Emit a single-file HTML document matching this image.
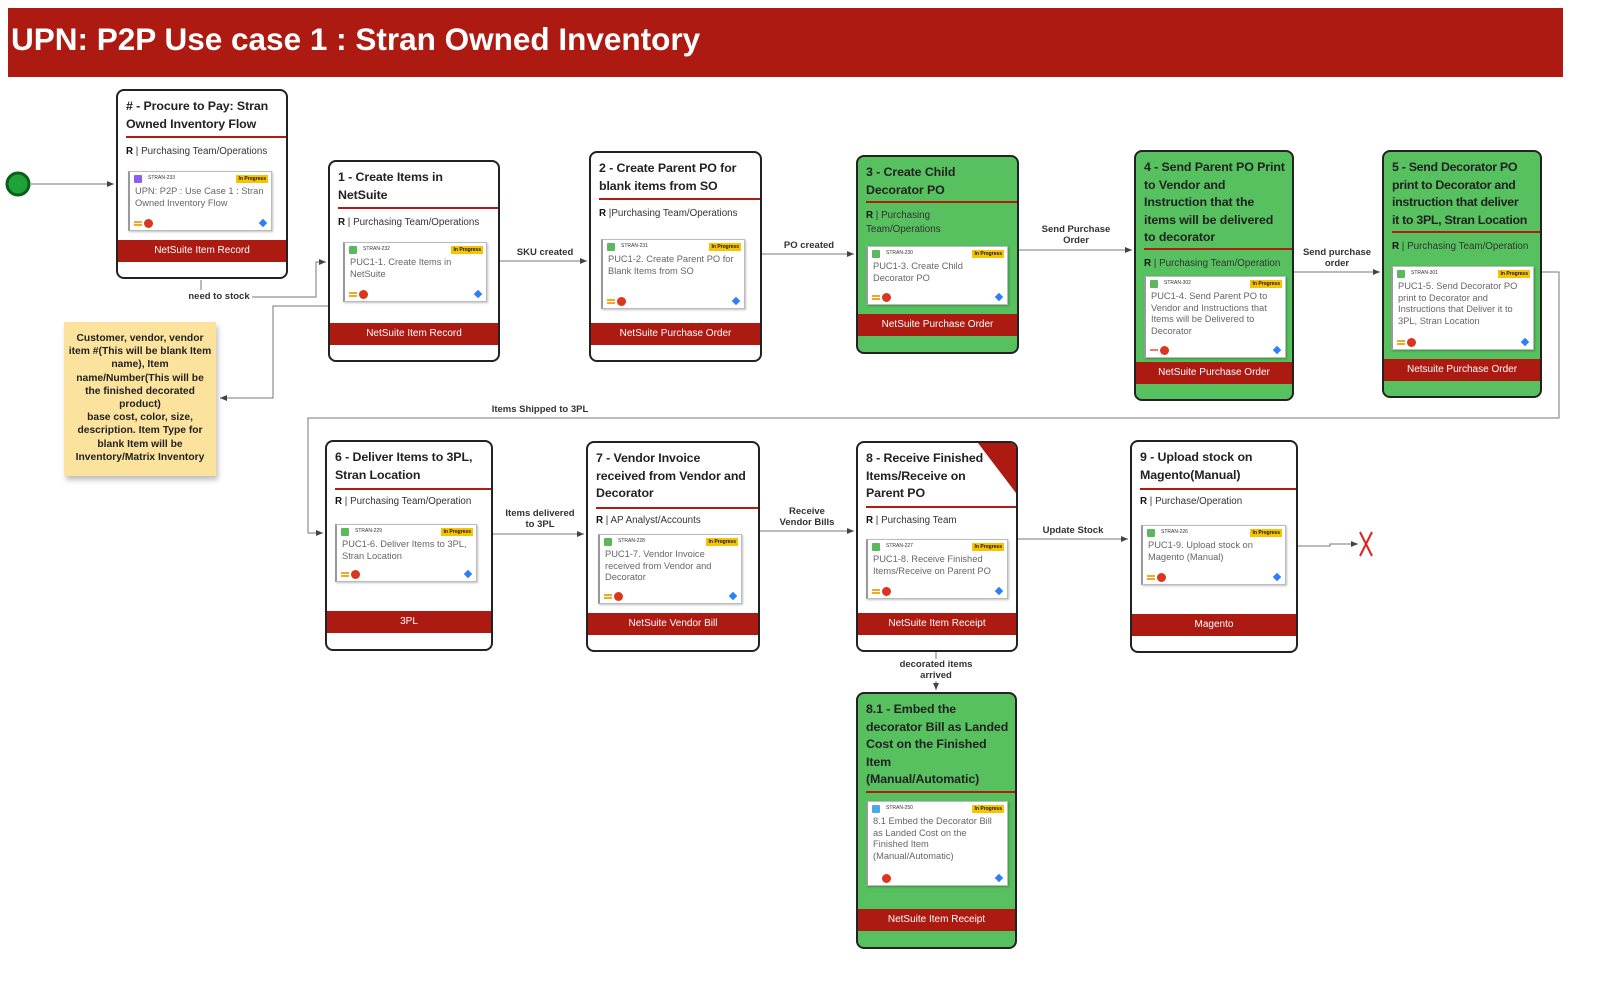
<!DOCTYPE html>
<html><head><meta charset="utf-8"><style>
*{box-sizing:border-box;margin:0;padding:0}
body{width:1605px;height:984px;background:#fff;position:relative;overflow:hidden;font-family:"Liberation Sans","DejaVu Sans",sans-serif}
.hdr{position:absolute;left:8px;top:8px;width:1555px;height:69px;background:#ad1a12;color:#fff;font-weight:bold;font-size:31.5px;padding:13px 0 0 3px}
.card{position:absolute;background:#fff;border:2px solid #222;border-radius:8px;overflow:hidden}
.card.g{background:#56c15e}
.t{position:absolute;left:8px;top:7px;font-weight:bold;font-size:12.4px;line-height:17.6px;color:#222;white-space:nowrap;letter-spacing:-0.1px}
.hl{position:absolute;left:8px;right:0;height:2px;background:#b01c14}
.r{position:absolute;left:8px;right:2px;font-size:9.8px;color:#333;line-height:14px;white-space:nowrap}
.r b{color:#111}
.ib{position:absolute;background:#fff;border:1px solid #bbb;box-shadow:1px 1px 2px rgba(0,0,0,.25);border-left:2px solid #999}
.ib .id{position:absolute;left:18px;top:3px;font-size:5px;color:#333}
.ib .ic{position:absolute;left:4px;top:3px;width:8px;height:8px;background:#5cb85c;border-radius:1px}
.ib .bd{position:absolute;right:3px;top:3px;background:#f8c400;font-size:5px;font-weight:bold;padding:1px 2px;color:#111}
.ib .tx{position:absolute;left:5px;top:14px;right:3px;font-size:9.3px;line-height:11.6px;color:#666}
.ib .e1{position:absolute;left:4px;bottom:4px;width:8px;height:5px;border-top:2px solid #f5a623;border-bottom:2px solid #f5a623}
.ib .e2{position:absolute;left:14px;bottom:2px;width:9px;height:9px;border-radius:50%;background:#d9361d}
.ib .e3{position:absolute;right:5px;bottom:4px;width:6px;height:6px;background:#2d7ff9;transform:rotate(45deg)}
.ft{position:absolute;left:0;right:0;height:22px;background:#ad1a12;color:#fff;font-size:10px;text-align:center;line-height:22px}
.lbl{position:absolute;font-size:9.5px;font-weight:bold;color:#333;text-align:center;line-height:11px;background:#fff}
.note{position:absolute;left:64px;top:322px;width:152px;height:154px;background:#fbe39d;box-shadow:2px 4px 5px rgba(0,0,0,.25);font-weight:bold;font-size:10.3px;line-height:13.2px;color:#222;text-align:center;padding:10px 4px}
</style></head><body>
<div class="hdr">UPN: P2P Use case 1 : Stran Owned Inventory</div>

<svg style="position:absolute;left:0;top:0" width="1605" height="984">
<defs><marker id="a" markerWidth="8" markerHeight="8" refX="7" refY="4" orient="auto" markerUnits="userSpaceOnUse"><path d="M0,1 L7,4 L0,7z" fill="#444"/></marker></defs>
<g fill="none" stroke="#777" stroke-width="1">
<path d="M31,184 H114" marker-end="url(#a)"/>
<path d="M201,280 V290"/>
<path d="M252,297 H316 V262 H326" marker-end="url(#a)"/>
<path d="M328,306 H273 V398 H220" marker-end="url(#a)"/>
<path d="M499,261 H587" marker-end="url(#a)"/>
<path d="M761,254 H854" marker-end="url(#a)"/>
<path d="M1018,250 H1132" marker-end="url(#a)"/>
<path d="M1293,272 H1380" marker-end="url(#a)"/>
<path d="M1541,272 H1559 V418 H308 V533 H323" marker-end="url(#a)"/>
<path d="M492,534 H584" marker-end="url(#a)"/>
<path d="M759,531 H854" marker-end="url(#a)"/>
<path d="M1017,539 H1128" marker-end="url(#a)"/>
<path d="M1297,546 H1330 V544 H1358" marker-end="url(#a)"/>
<path d="M936,651 V690" marker-end="url(#a)"/>
</g>
<circle cx="18" cy="184" r="11" fill="#1fa339" stroke="#0b5e1c" stroke-width="3"/>
<path d="M1360,532 L1372,556 M1372,532 L1360,556" stroke="#e0201c" stroke-width="2"/>
</svg>

<div class="lbl" style="left:186px;top:291px;width:66px">need to stock</div>
<div class="lbl" style="left:512px;top:247px;width:66px">SKU created</div>
<div class="lbl" style="left:778px;top:240px;width:62px">PO created</div>
<div class="lbl" style="left:1036px;top:224px;width:80px">Send Purchase<br>Order</div>
<div class="lbl" style="left:1298px;top:247px;width:78px">Send purchase<br>order</div>
<div class="lbl" style="left:488px;top:404px;width:104px">Items Shipped to 3PL</div>
<div class="lbl" style="left:500px;top:508px;width:80px">Items delivered<br>to 3PL</div>
<div class="lbl" style="left:772px;top:506px;width:70px">Receive<br>Vendor Bills</div>
<div class="lbl" style="left:1038px;top:525px;width:70px">Update Stock</div>
<div class="lbl" style="left:890px;top:659px;width:92px">decorated items<br>arrived</div>

<div class="note">Customer, vendor, vendor item #(This will be blank Item name), Item name/Number(This will be the finished decorated product)<br>base cost, color, size, description. Item Type for blank Item will be Inventory/Matrix Inventory</div>

<div class="card" style="left:116px;top:89px;width:172px;height:190px">
<div class="t"># - Procure to Pay: Stran<br>Owned Inventory Flow</div>
<div class="hl" style="top:45px"></div>
<div class="r" style="top:54px"><b>R</b> | Purchasing Team/Operations</div>
<div class="ib" style="left:10px;top:80px;width:144px;height:60px"><div class="ic" style="background:#8b5cf6"></div><div class="id">STRAN-233</div><div class="bd">In Progress</div><div class="tx">UPN: P2P : Use Case 1 : Stran Owned Inventory Flow</div><div class="e1"></div><div class="e2"></div><div class="e3"></div></div>
<div class="ft" style="top:149px">NetSuite Item Record</div>
</div>
<div class="card" style="left:328px;top:160px;width:172px;height:202px">
<div class="t">1 - Create Items in<br>NetSuite</div>
<div class="hl" style="top:45px"></div>
<div class="r" style="top:54px"><b>R</b> | Purchasing Team/Operations</div>
<div class="ib" style="left:13px;top:80px;width:144px;height:60px"><div class="ic"></div><div class="id">STRAN-232</div><div class="bd">In Progress</div><div class="tx">PUC1-1. Create Items in NetSuite</div><div class="e1"></div><div class="e2"></div><div class="e3"></div></div>
<div class="ft" style="top:161px">NetSuite Item Record</div>
</div>
<div class="card" style="left:589px;top:151px;width:173px;height:211px">
<div class="t">2 - Create Parent PO for<br>blank items from SO</div>
<div class="hl" style="top:45px"></div>
<div class="r" style="top:54px"><b>R</b> |Purchasing Team/Operations</div>
<div class="ib" style="left:10px;top:86px;width:144px;height:70px"><div class="ic"></div><div class="id">STRAN-231</div><div class="bd">In Progress</div><div class="tx">PUC1-2. Create Parent PO for Blank Items from SO</div><div class="e1"></div><div class="e2"></div><div class="e3"></div></div>
<div class="ft" style="top:170px">NetSuite Purchase Order</div>
</div>
<div class="card g" style="left:856px;top:155px;width:163px;height:199px">
<div class="t">3 - Create  Child<br>Decorator PO</div>
<div class="hl" style="top:44px"></div>
<div class="r" style="top:52px;white-space:normal;width:90px"><b>R</b> | Purchasing Team/Operations</div>
<div class="ib" style="left:8px;top:89px;width:142px;height:59px"><div class="ic"></div><div class="id">STRAN-230</div><div class="bd">In Progress</div><div class="tx">PUC1-3. Create Child Decorator PO</div><div class="e1"></div><div class="e2"></div><div class="e3"></div></div>
<div class="ft" style="top:157px">NetSuite Purchase Order</div>
</div>
<div class="card g" style="left:1134px;top:150px;width:160px;height:251px">
<div class="t">4 - Send Parent PO Print<br>to Vendor and<br>Instruction that the<br>items will be delivered<br>to decorator</div>
<div class="hl" style="top:96px"></div>
<div class="r" style="top:105px"><b>R</b> | Purchasing Team/Operation</div>
<div class="ib" style="left:8px;top:124px;width:142px;height:82px"><div class="ic"></div><div class="id">STRAN-302</div><div class="bd">In Progress</div><div class="tx">PUC1-4. Send Parent PO to Vendor and Instructions that Items will be Delivered to Decorator</div><div class="e1" style="border:none;border-top:2px solid #f07b6b;width:8px;height:4px"></div><div class="e2"></div><div class="e3"></div></div>
<div class="ft" style="top:210px">NetSuite Purchase Order</div>
</div>
<div class="card g" style="left:1382px;top:150px;width:160px;height:248px">
<div class="t" style="letter-spacing:-0.3px">5 - Send Decorator PO<br>print to Decorator and<br>instruction that deliver<br>it to 3PL, Stran Location</div>
<div class="hl" style="top:79px"></div>
<div class="r" style="top:88px"><b>R</b> | Purchasing Team/Operation</div>
<div class="ib" style="left:7px;top:114px;width:143px;height:84px"><div class="ic"></div><div class="id">STRAN-301</div><div class="bd">In Progress</div><div class="tx">PUC1-5. Send Decorator PO print to Decorator and Instructions that Deliver it to 3PL, Stran Location</div><div class="e1"></div><div class="e2"></div><div class="e3"></div></div>
<div class="ft" style="top:207px">Netsuite Purchase Order</div>
</div>
<div class="card" style="left:325px;top:440px;width:168px;height:211px">
<div class="t">6 - Deliver Items to 3PL,<br>Stran Location</div>
<div class="hl" style="top:46px"></div>
<div class="r" style="top:53px"><b>R</b> | Purchasing Team/Operation</div>
<div class="ib" style="left:8px;top:82px;width:142px;height:58px"><div class="ic"></div><div class="id">STRAN-229</div><div class="bd">In Progress</div><div class="tx">PUC1-6. Deliver Items to 3PL, Stran Location</div><div class="e1"></div><div class="e2"></div><div class="e3"></div></div>
<div class="ft" style="top:169px">3PL</div>
</div>
<div class="card" style="left:586px;top:441px;width:174px;height:211px">
<div class="t">7 - Vendor Invoice<br>received from Vendor and<br>Decorator</div>
<div class="hl" style="top:64px"></div>
<div class="r" style="top:71px"><b>R</b> | AP Analyst/Accounts</div>
<div class="ib" style="left:10px;top:91px;width:144px;height:70px"><div class="ic"></div><div class="id">STRAN-228</div><div class="bd">In Progress</div><div class="tx">PUC1-7. Vendor Invoice received from Vendor and Decorator</div><div class="e1"></div><div class="e2"></div><div class="e3"></div></div>
<div class="ft" style="top:170px">NetSuite Vendor Bill</div>
</div>
<div class="card" style="left:856px;top:441px;width:162px;height:211px">
<div style="position:absolute;right:0;top:0;width:0;height:0;border-top:50px solid #ad1a12;border-left:38px solid transparent"></div>
<div class="t">8 - Receive Finished<br>Items/Receive on<br>Parent PO</div>
<div class="hl" style="top:63px"></div>
<div class="r" style="top:71px"><b>R</b> | Purchasing Team</div>
<div class="ib" style="left:8px;top:96px;width:142px;height:60px"><div class="ic"></div><div class="id">STRAN-227</div><div class="bd">In Progress</div><div class="tx">PUC1-8. Receive Finished Items/Receive on Parent PO</div><div class="e1"></div><div class="e2"></div><div class="e3"></div></div>
<div class="ft" style="top:170px">NetSuite Item Receipt</div>
</div>
<div class="card" style="left:1130px;top:440px;width:168px;height:213px">
<div class="t">9 - Upload stock on<br>Magento(Manual)</div>
<div class="hl" style="top:46px"></div>
<div class="r" style="top:53px"><b>R</b> | Purchase/Operation</div>
<div class="ib" style="left:9px;top:83px;width:145px;height:60px"><div class="ic"></div><div class="id">STRAN-226</div><div class="bd">In Progress</div><div class="tx">PUC1-9. Upload stock on Magento (Manual)</div><div class="e1"></div><div class="e2"></div><div class="e3"></div></div>
<div class="ft" style="top:172px">Magento</div>
</div>
<div class="card g" style="left:856px;top:692px;width:161px;height:257px">
<div class="t">8.1 - Embed the<br>decorator Bill as Landed<br>Cost on the Finished<br>Item<br>(Manual/Automatic)</div>
<div class="hl" style="top:97px"></div>
<div class="ib" style="left:8px;top:107px;width:142px;height:85px"><div class="ic" style="background:#4aa8e8"></div><div class="id">STRAN-250</div><div class="bd">In Progress</div><div class="tx">8.1 Embed the Decorator Bill as Landed Cost on the Finished Item (Manual/Automatic)</div><div class="e2"></div><div class="e3"></div></div>
<div class="ft" style="top:215px">NetSuite Item Receipt</div>
</div>
</body></html>
